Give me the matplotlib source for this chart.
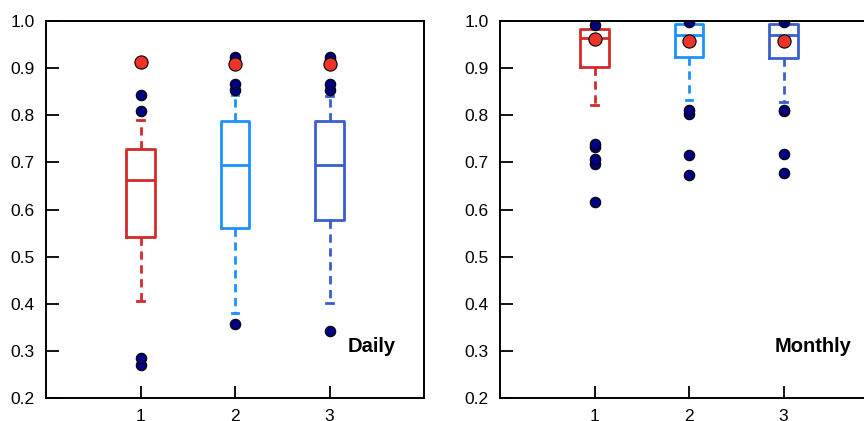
import matplotlib.pyplot as plt

plt.rcParams['font.family'] = ['Liberation Sans', 'DejaVu Sans']

positions = [1, 2, 3]
colors = ['#d22b2b', '#1e90ff', '#3a5fcd']

# daily skill: whisker low, q1, median, q3, whisker high, mean, outliers
daily_whislo = [0.405, 0.381, 0.402]
daily_q1 = [0.542, 0.560, 0.578]
daily_med = [0.663, 0.695, 0.695]
daily_q3 = [0.729, 0.788, 0.788]
daily_whishi = [0.790, 0.842, 0.841]
daily_mean = [0.912, 0.908, 0.908]
daily_fliers = [
    [0.271, 0.284, 0.808, 0.844, 0.912],
    [0.358, 0.853, 0.867, 0.917, 0.924],
    [0.342, 0.853, 0.867, 0.917, 0.924],
]

monthly_whislo = [0.822, 0.832, 0.828]
monthly_q1 = [0.902, 0.924, 0.922]
monthly_med = [0.964, 0.971, 0.971]
monthly_q3 = [0.984, 0.994, 0.994]
monthly_whishi = [0.990, 0.996, 0.996]
monthly_mean = [0.962, 0.958, 0.958]
monthly_fliers = [
    [0.615, 0.696, 0.707, 0.733, 0.738, 0.992],
    [0.673, 0.715, 0.803, 0.812, 0.998],
    [0.677, 0.717, 0.808, 0.812, 0.997],
]

yticks = [0.2, 0.3, 0.4, 0.5, 0.6, 0.7, 0.8, 0.9, 1.0]


def make_stats(lo, q1, med, q3, hi, mean, fl):
    out = []
    for i in range(len(lo)):
        out.append(dict(whislo=lo[i], q1=q1[i], med=med[i], q3=q3[i],
                        whishi=hi[i], mean=mean[i], fliers=fl[i]))
    return out


def draw_panel(ax, stats, label, label_x):
    for i, s in enumerate(stats):
        c = colors[i]
        ax.bxp([s], positions=[positions[i]], widths=0.3,
               showmeans=True, showfliers=True,
               boxprops=dict(color=c, linewidth=2.0),
               medianprops=dict(color=c, linewidth=2.0),
               whiskerprops=dict(color=c, linewidth=2.0, linestyle=(0, (3.0, 2.0))),
               capprops=dict(color=c, linewidth=2.0),
               capwidths=0.07,
               flierprops=dict(marker='o', markerfacecolor='#000080',
                               markeredgecolor='black', markersize=7.5,
                               markeredgewidth=0.8),
               meanprops=dict(marker='o', markerfacecolor='#ee3329',
                              markeredgecolor='black', markersize=9.5,
                              markeredgewidth=0.8))
    ax.set_xlim(0, 4)
    ax.set_ylim(0.2, 1.0)
    ax.set_yticks(yticks)
    ax.set_yticklabels(['%.1f' % v for v in yticks])
    ax.set_xticks(positions)
    ax.set_xticklabels([str(p) for p in positions])
    ax.tick_params(axis='both', direction='in', length=9, width=1.3,
                   labelsize=12.5, pad=8)
    for sp in ax.spines.values():
        sp.set_linewidth(1.4)
    ax.text(label_x, 0.31, label, fontsize=14.5, fontweight='bold',
            ha='center', va='center')


fig = plt.figure(figsize=(8.64, 4.21), dpi=100)
ax1 = fig.add_axes([46 / 864, 23 / 421, 378 / 864, 377 / 421])
ax2 = fig.add_axes([500 / 864, 23 / 421, 378 / 864, 377 / 421])

draw_panel(ax1, make_stats(daily_whislo, daily_q1, daily_med, daily_q3,
                           daily_whishi, daily_mean, daily_fliers), 'Daily', 3.45)
draw_panel(ax2, make_stats(monthly_whislo, monthly_q1, monthly_med, monthly_q3,
                           monthly_whishi, monthly_mean, monthly_fliers), 'Monthly', 3.31)

fig.savefig('out.png', dpi=100)
